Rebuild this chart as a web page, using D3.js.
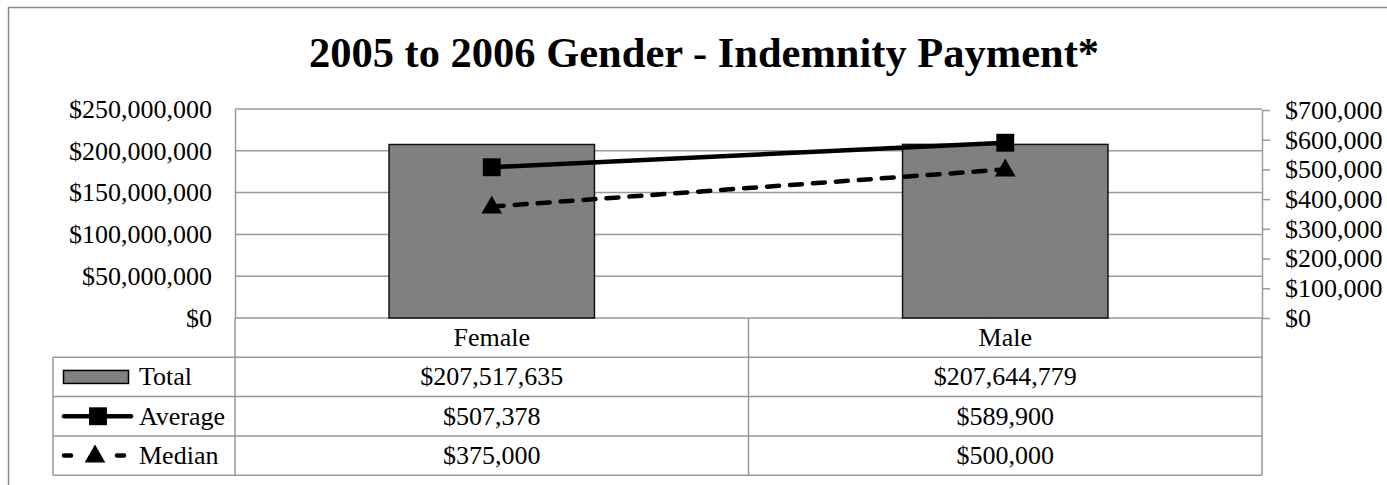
<!DOCTYPE html>
<html>
<head>
<meta charset="utf-8">
<script src="https://cdn.jsdelivr.net/npm/d3@7"></script>
<style>
  body { margin: 0; background: #fff; }
  text { font-family: "Liberation Serif", "Times New Roman", serif; fill: #000; }
</style>
</head>
<body>
<div id="chart"></div>
<script>
// data
var categories = ["Female", "Male"];
var totals = [207517635, 207644779];
var averages = [507378, 589900];
var medians = [375000, 500000];
var leftTicks = [0, 50000000, 100000000, 150000000, 200000000, 250000000];
var rightTicks = [0, 100000, 200000, 300000, 400000, 500000, 600000, 700000];
var seriesNames = ["Total", "Average", "Median"];

var W = 1387, H = 485;
var plot = {left: 235, right: 1262, top: 109, bottom: 318};
var rowH = 39.3;
var gridColor = "#999";
var fmt = d3.format("$,");

var svg = d3.select("#chart").append("svg")
    .attr("width", W)
    .attr("height", H);

// outer chart border (runs off the right / bottom of the picture)
svg.append("rect")
  .attr("x", 8.5).attr("y", 7.5)
  .attr("width", 1400).attr("height", 500)
  .attr("fill", "none")
  .attr("stroke", "#888")
  .attr("stroke-width", 1.5);

// title
svg.append("text")
  .attr("x", 704)
  .attr("y", 67)
  .attr("text-anchor", "middle")
  .style("font-size", "42.5px")
  .style("font-weight", "bold")
  .text("2005 to 2006 Gender - Indemnity Payment*");

// scales
var x = d3.scaleBand()
  .domain(categories)
  .range([plot.left, plot.right])
  .paddingInner(0.6)
  .paddingOuter(0.3);
var cx = function(c) { return x(c) + x.bandwidth() / 2; };
var step = x.step();

var yLeft = d3.scaleLinear().domain([0, 250000000]).range([plot.bottom, plot.top]);
var yRight = d3.scaleLinear().domain([0, 700000]).range([plot.bottom, plot.top + 1]);

// gridlines
svg.append("g")
  .selectAll("line")
  .data(leftTicks)
  .join("line")
    .attr("x1", plot.left).attr("x2", plot.right)
    .attr("y1", d => yLeft(d)).attr("y2", d => yLeft(d))
    .attr("stroke", gridColor)
    .attr("stroke-width", 1.5);

// left axis
var gl = svg.append("g")
  .attr("transform", "translate(" + plot.left + ",0)")
  .call(d3.axisLeft(yLeft).tickValues(leftTicks).tickSize(0).tickPadding(23).tickFormat(fmt));
gl.select(".domain").attr("stroke", gridColor).attr("stroke-width", 1.5);
gl.selectAll("text").style("font-size", "26px").style("font-family", "'Liberation Serif', 'Times New Roman', serif");

// right axis
var gr = svg.append("g")
  .attr("transform", "translate(" + plot.right + ",0)")
  .call(d3.axisRight(yRight).tickValues(rightTicks).tickSize(8).tickSizeOuter(0).tickPadding(15).tickFormat(fmt));
gr.select(".domain").attr("stroke", gridColor).attr("stroke-width", 1.5);
gr.selectAll(".tick line").attr("stroke", gridColor).attr("stroke-width", 1.5);
gr.selectAll("text").style("font-size", "26px").style("font-family", "'Liberation Serif', 'Times New Roman', serif");

// bars
svg.append("g")
  .selectAll("rect")
  .data(totals)
  .join("rect")
    .attr("x", (d, i) => x(categories[i]))
    .attr("y", d => yLeft(d))
    .attr("width", x.bandwidth())
    .attr("height", d => yLeft(0) - yLeft(d))
    .attr("fill", "#808080")
    .attr("stroke", "#111")
    .attr("stroke-width", 1.5);

// average / median lines
var line = d3.line()
  .x((d, i) => cx(categories[i]))
  .y(d => yRight(d));

svg.append("path")
  .datum(averages)
  .attr("d", line)
  .attr("fill", "none")
  .attr("stroke", "#000")
  .attr("stroke-width", 4.5);

svg.append("path")
  .datum(medians)
  .attr("d", line)
  .attr("fill", "none")
  .attr("stroke", "#000")
  .attr("stroke-width", 4.5)
  .attr("stroke-linecap", "round")
  .attr("stroke-dasharray", "12,11");

var square = d3.symbol().type(d3.symbolSquare).size(320);
var triangle = d3.symbol().type(d3.symbolTriangle).size(185);

svg.append("g")
  .selectAll("path")
  .data(averages)
  .join("path")
    .attr("d", square)
    .attr("transform", (d, i) => "translate(" + cx(categories[i]) + "," + yRight(d) + ")")
    .attr("fill", "#000");

svg.append("g")
  .selectAll("path")
  .data(medians)
  .join("path")
    .attr("d", triangle)
    .attr("transform", (d, i) => "translate(" + cx(categories[i]) + "," + (yRight(d) + 1) + ")")
    .attr("fill", "#000");

// data table
var table = svg.append("g");
var tLeft = 53;
var tTop = plot.bottom;
var rowTop = i => tTop + rowH * (i + 1); // series rows below the category row
var tBottom = rowTop(seriesNames.length);

// horizontal rules of series rows
table.selectAll("line.h")
  .data(d3.range(seriesNames.length + 1))
  .join("line")
    .attr("x1", tLeft).attr("x2", plot.right)
    .attr("y1", i => rowTop(i)).attr("y2", i => rowTop(i))
    .attr("stroke", gridColor).attr("stroke-width", 1.5);

// vertical rules
table.append("line")
  .attr("x1", tLeft).attr("x2", tLeft)
  .attr("y1", rowTop(0)).attr("y2", tBottom)
  .attr("stroke", gridColor).attr("stroke-width", 1.5);
table.selectAll("line.v")
  .data([plot.left, plot.left + step, plot.right])
  .join("line")
    .attr("x1", d => d).attr("x2", d => d)
    .attr("y1", tTop).attr("y2", tBottom)
    .attr("stroke", gridColor).attr("stroke-width", 1.5);

// category labels
table.selectAll("text.cat")
  .data(categories)
  .join("text")
    .attr("x", d => cx(d))
    .attr("y", tTop + rowH / 2 + 8.5)
    .attr("text-anchor", "middle")
    .style("font-size", "26px")
    .text(d => d);

// values
var rows = [totals, averages, medians];
rows.forEach(function(vals, r) {
  table.append("g")
    .selectAll("text")
    .data(vals)
    .join("text")
      .attr("x", (d, i) => cx(categories[i]))
      .attr("y", rowTop(r) + rowH / 2 + 8.5)
      .attr("text-anchor", "middle")
      .style("font-size", "26px")
      .text(d => fmt(d));
});

// legend keys inside the table
var lg = table.append("g");
lg.selectAll("text")
  .data(seriesNames)
  .join("text")
    .attr("x", 139)
    .attr("y", (d, i) => rowTop(i) + rowH / 2 + 8.5)
    .style("font-size", "26px")
    .text(d => d);

var ky = i => rowTop(i) + rowH / 2;
lg.append("rect")
  .attr("x", 63.5).attr("y", ky(0) - 6.5)
  .attr("width", 65).attr("height", 13)
  .attr("fill", "#808080").attr("stroke", "#000").attr("stroke-width", 1.5);

lg.append("line")
  .attr("x1", 64).attr("x2", 131)
  .attr("y1", ky(1)).attr("y2", ky(1))
  .attr("stroke", "#000").attr("stroke-width", 4.5).attr("stroke-linecap", "round");
lg.append("path")
  .attr("d", square)
  .attr("transform", "translate(98," + ky(1) + ")");

lg.append("line")
  .attr("x1", 64).attr("x2", 124)
  .attr("y1", ky(2)).attr("y2", ky(2))
  .attr("stroke", "#000").attr("stroke-width", 4.5).attr("stroke-linecap", "round")
  .attr("stroke-dasharray", "7,46");
lg.append("path")
  .attr("d", triangle)
  .attr("transform", "translate(95," + (ky(2) + 1) + ")");
</script>
</body>
</html>
